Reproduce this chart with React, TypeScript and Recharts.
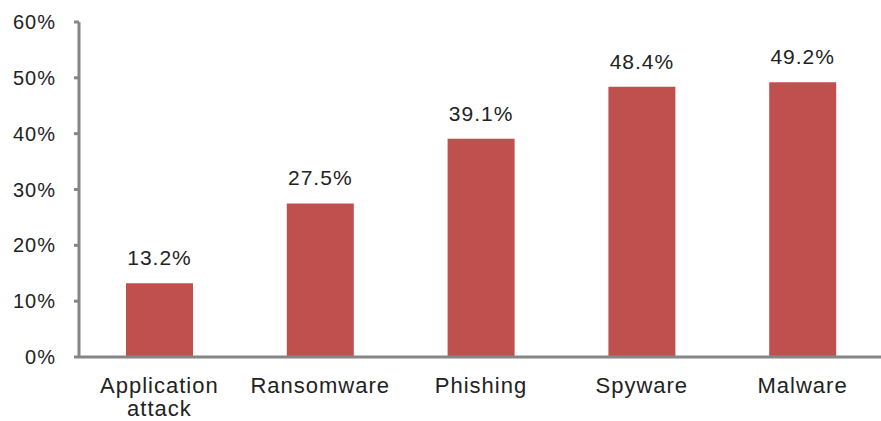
import { BarChart, Bar, XAxis, YAxis, LabelList } from 'recharts'

const categories = ['Application attack', 'Ransomware', 'Phishing', 'Spyware', 'Malware']
const shares = [13.2, 27.5, 39.1, 48.4, 49.2]
const yTicks = [0, 10, 20, 30, 40, 50, 60]

const data = categories.map((name, i) => ({ name, value: shares[i] }))

const FONT = '"Liberation Sans", Arial, sans-serif'

const CategoryTick = ({ x, y, payload }: { x: number; y: number; payload: { value: string } }) => {
  const words = String(payload.value).split(' ')
  const lines = words.length > 1 && payload.value.length > 12 ? words : [payload.value]
  return (
    <text x={x} y={y} textAnchor="middle" fill="#222" fontSize={22} letterSpacing={1} fontFamily={FONT}>
      {lines.map((line, i) => (
        <tspan key={i} x={x} dy={i === 0 ? 28 : 23}>
          {line}
        </tspan>
      ))}
    </text>
  )
}

export default function App() {
  return (
    <div style={{ position: 'fixed', left: 0, top: 0, background: '#fff' }}>
      <BarChart
        width={881}
        height={421}
        data={data}
        margin={{ top: 22, right: -2, bottom: 0, left: 1 }}
        barCategoryGap={0}
      >
        <XAxis
          dataKey="name"
          height={64}
          tickLine={false}
          axisLine={{ stroke: '#868686', strokeWidth: 3 }}
          tick={CategoryTick}
          interval={0}
        />
        <YAxis
          width={78}
          domain={[0, 60]}
          ticks={yTicks}
          tickFormatter={(v) => `${v}%`}
          axisLine={{ stroke: '#868686', strokeWidth: 3 }}
          tickLine={{ stroke: '#868686', strokeWidth: 3 }}
          tickSize={5}
          tickMargin={18}
          tick={{ fill: '#222', fontSize: 20, letterSpacing: 1, fontFamily: FONT }}
        />
        <Bar dataKey="value" fill="#C0504D" barSize={67} isAnimationActive={false}>
          <LabelList
            dataKey="value"
            position="top"
            offset={18}
            formatter={(v: number) => `${v.toFixed(1)}%`}
            style={{ fill: '#222', fontSize: 21, letterSpacing: 1, fontFamily: FONT }}
          />
        </Bar>
      </BarChart>
    </div>
  )
}
